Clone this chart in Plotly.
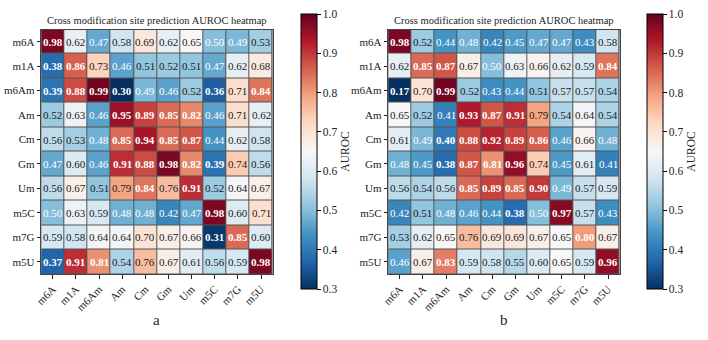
import plotly.graph_objects as go

mods = ["m6A", "m1A", "m6Am", "Am", "Cm", "Gm", "Um", "m5C", "m7G", "m5U"]

auroc_a = [
    [0.98, 0.62, 0.47, 0.58, 0.69, 0.62, 0.65, 0.50, 0.49, 0.53],
    [0.38, 0.86, 0.73, 0.46, 0.51, 0.52, 0.51, 0.47, 0.62, 0.68],
    [0.39, 0.88, 0.99, 0.30, 0.49, 0.46, 0.52, 0.36, 0.71, 0.84],
    [0.52, 0.63, 0.46, 0.95, 0.89, 0.85, 0.82, 0.46, 0.71, 0.62],
    [0.56, 0.53, 0.48, 0.85, 0.94, 0.85, 0.87, 0.44, 0.62, 0.58],
    [0.47, 0.60, 0.46, 0.91, 0.88, 0.98, 0.82, 0.39, 0.74, 0.56],
    [0.56, 0.67, 0.51, 0.79, 0.84, 0.76, 0.91, 0.52, 0.64, 0.67],
    [0.50, 0.63, 0.59, 0.48, 0.48, 0.42, 0.47, 0.98, 0.60, 0.71],
    [0.59, 0.58, 0.64, 0.64, 0.70, 0.67, 0.66, 0.31, 0.85, 0.60],
    [0.37, 0.91, 0.81, 0.54, 0.76, 0.67, 0.61, 0.56, 0.59, 0.98],
]

auroc_b = [
    [0.98, 0.52, 0.44, 0.48, 0.42, 0.45, 0.47, 0.47, 0.43, 0.58],
    [0.62, 0.85, 0.87, 0.67, 0.50, 0.63, 0.66, 0.62, 0.59, 0.84],
    [0.17, 0.70, 0.99, 0.52, 0.43, 0.44, 0.51, 0.57, 0.57, 0.54],
    [0.65, 0.52, 0.41, 0.93, 0.87, 0.91, 0.79, 0.54, 0.64, 0.54],
    [0.61, 0.49, 0.40, 0.88, 0.92, 0.89, 0.86, 0.46, 0.66, 0.48],
    [0.48, 0.45, 0.38, 0.87, 0.81, 0.96, 0.74, 0.45, 0.61, 0.41],
    [0.56, 0.54, 0.56, 0.85, 0.89, 0.85, 0.90, 0.49, 0.57, 0.59],
    [0.42, 0.51, 0.48, 0.46, 0.44, 0.38, 0.50, 0.97, 0.57, 0.43],
    [0.53, 0.62, 0.65, 0.76, 0.69, 0.69, 0.67, 0.65, 0.80, 0.67],
    [0.46, 0.67, 0.83, 0.59, 0.58, 0.55, 0.60, 0.65, 0.59, 0.96],
]

cbar_ticks = [0.3, 0.4, 0.5, 0.6, 0.7, 0.8, 0.9, 1.0]
title_text = "Cross modification site prediction AUROC heatmap"
panel_labels = ["a", "b"]

rdbu = ["#053061", "#2166ac", "#4393c3", "#92c5de", "#d1e5f0", "#f7f7f7",
        "#fddbc7", "#f4a582", "#d6604d", "#b2182b", "#67001f"]
colorscale = [[i / 10, c] for i, c in enumerate(rdbu)]

W, H = 708, 340
FONT = "Liberation Serif"

fig = go.Figure()

grid_left = [36, 400.5]
grid_w = 243
grid_top, grid_bot = 29.5, 274
cbar_left = [298, 662]

for k, data in enumerate([auroc_a, auroc_b]):
    xa = "x" if k == 0 else "x2"
    ya = "y" if k == 0 else "y2"
    fig.add_trace(go.Heatmap(
        z=data, x=mods, y=mods, xaxis=xa, yaxis=ya,
        zmin=0.3, zmax=1.0, colorscale=colorscale, xgap=1, ygap=1,
        hoverinfo="skip",
        colorbar=dict(
            x=cbar_left[k] / W, xanchor="left", y=1 - 4 / H, yanchor="top",
            len=295 / H, lenmode="fraction", thickness=16, thicknessmode="pixels",
            outlinewidth=1, outlinecolor="black",
            tickvals=cbar_ticks, ticktext=[f"{t:.1f}" for t in cbar_ticks],
            ticks="outside", ticklen=3.5, tickcolor="black",
            tickfont=dict(family=FONT, size=11.5, color="#222"),
            title=dict(text="AUROC", side="right", font=dict(family=FONT, size=11.5, color="#222")),
        ),
    ))
    for i, row in enumerate(data):
        for j, v in enumerate(row):
            white = v <= 0.50 or v >= 0.80
            bold = v <= 0.40 or v >= 0.80
            txt = f"{v:.2f}"
            if bold:
                txt = f"<b>{txt}</b>"
            fig.add_annotation(
                x=mods[j], y=mods[i], xref=xa, yref=ya, text=txt, showarrow=False,
                xanchor="center", yanchor="middle",
                font=dict(family=FONT, size=11, color="white" if white else "#1a1a1a"),
            )
    cx = (grid_left[k] + grid_w / 2) / W
    fig.add_annotation(x=cx, y=1 - 20 / H, xref="paper", yref="paper", text=title_text,
                       showarrow=False, xanchor="center", yanchor="middle",
                       font=dict(family=FONT, size=10.5, color="#222"))
    fig.add_annotation(x=cx, y=1 - 320 / H, xref="paper", yref="paper", text=panel_labels[k],
                       showarrow=False, xanchor="center", yanchor="middle",
                       font=dict(family=FONT, size=15, color="#222"))

axis_common = dict(
    type="category", showgrid=False, zeroline=False, showline=True, mirror=True,
    linecolor="#444", linewidth=1, ticks="outside", ticklen=3.5, tickcolor="#222",
    tickfont=dict(family=FONT, size=11, color="#222"),
)
for k in range(2):
    xd = [grid_left[k] / W, (grid_left[k] + grid_w) / W]
    yd = [1 - grid_bot / H, 1 - grid_top / H]
    xkey = "xaxis" if k == 0 else "xaxis2"
    ykey = "yaxis" if k == 0 else "yaxis2"
    yref = "y" if k == 0 else "y2"
    xref = "x" if k == 0 else "x2"
    fig.update_layout(**{
        xkey: dict(axis_common, domain=xd, anchor=yref, range=[-0.5, 9.5], tickangle=-45),
        ykey: dict(axis_common, domain=yd, anchor=xref, range=[9.5, -0.5]),
    })

fig.update_layout(
    width=W, height=H, autosize=False, margin=dict(l=0, r=0, t=0, b=0),
    paper_bgcolor="white", plot_bgcolor="#555", showlegend=False,
)

fig.write_html("out.html")
